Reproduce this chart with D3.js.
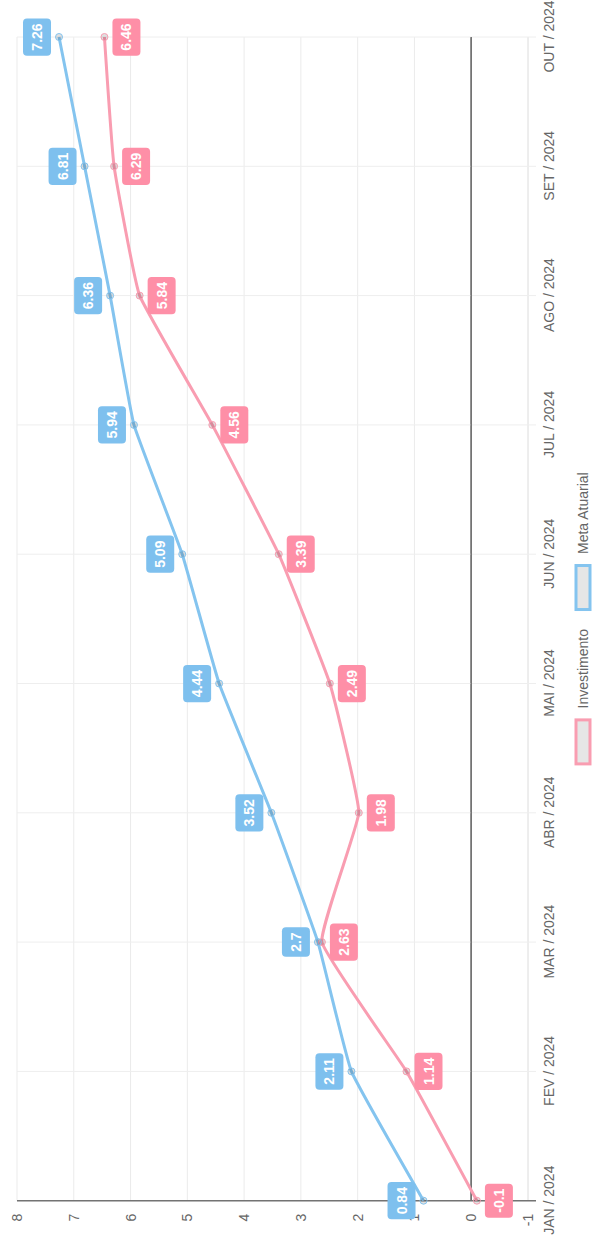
<!DOCTYPE html>
<html>
<head>
<meta charset="utf-8">
<script src="https://cdn.jsdelivr.net/npm/d3@7"></script>
<style>
  html, body { margin: 0; padding: 0; background: #fff; }
  svg { display: block; font-family: "Liberation Sans", Arial, sans-serif; }
</style>
</head>
<body>
<div id="chart"></div>
<script>
const categories = ["JAN / 2024", "FEV / 2024", "MAR / 2024", "ABR / 2024", "MAI / 2024",
                    "JUN / 2024", "JUL / 2024", "AGO / 2024", "SET / 2024", "OUT / 2024"]
const metaAtuarial = [0.84, 2.11, 2.7, 3.52, 4.44, 5.09, 5.94, 6.36, 6.81, 7.26]
const investimento = [-0.1, 1.14, 2.63, 1.98, 2.49, 3.39, 4.56, 5.84, 6.29, 6.46]
const valueTicks = [-1, 0, 1, 2, 3, 4, 5, 6, 7, 8]

const series = [
    {name: "Investimento", values: investimento, line: "#f99db1", label: "#fe8fa7", side: 1},
    {name: "Meta Atuarial", values: metaAtuarial, line: "#84c4ef", label: "#7ec0ee", side: -1}
]

// chart is laid out as a normal 1249x592 line chart, then turned a quarter left
const W = 1249, H = 592
const margin = {top: 17, left: 48.3, right: 37, bottom: 64}
const iwidth = W - margin.left - margin.right
const iheight = H - margin.top - margin.bottom

const svg = d3.select("#chart").append("svg")
    .attr("width", 592)
    .attr("height", 1249)

const root = svg.append("g").attr("transform", `translate(0,${W}) rotate(-90)`)

const x = d3.scalePoint()
    .domain(categories)
    .range([margin.left, margin.left + iwidth])

const y = d3.scaleLinear()
    .domain([-1, 8])
    .range([margin.top + iheight, margin.top])

// value grid
root.append("g").selectAll("line").data(valueTicks).enter().append("line")
    .attr("x1", margin.left).attr("x2", margin.left + iwidth)
    .attr("y1", d => y(d)).attr("y2", d => y(d))
    .attr("stroke", d => d === 0 ? "#737373" : (d === -1 ? "#dcdcdc" : "#ebebeb"))
    .attr("stroke-width", d => d === 0 ? 1.5 : 1)

// category grid (with ticks past the bottom)
root.append("g").selectAll("line").data(categories).enter().append("line")
    .attr("x1", d => x(d)).attr("x2", d => x(d))
    .attr("y1", margin.top).attr("y2", margin.top + iheight + 8)
    .attr("stroke", "#eeeeee")

// zero line drawn again so it sits over the category grid
root.append("line")
    .attr("x1", margin.left).attr("x2", margin.left + iwidth)
    .attr("y1", y(0)).attr("y2", y(0))
    .attr("stroke", "#737373").attr("stroke-width", 1.5)

// left value axis
const yAxis = root.append("g")
    .attr("transform", `translate(${margin.left},0)`)
    .call(d3.axisLeft(y).tickValues(valueTicks).tickSize(0).tickPadding(13).tickFormat(d3.format("d")))
yAxis.select(".domain").remove()
yAxis.selectAll("text").attr("fill", "#666").style("font-size", "14px")
yAxis.selectAll("text").text(d => d < 0 ? "-" + Math.abs(d) : d)
root.append("line")
    .attr("x1", margin.left).attr("x2", margin.left)
    .attr("y1", margin.top).attr("y2", margin.top + iheight + 8)
    .attr("stroke", "#737373").attr("stroke-width", 1.5)

// bottom category axis labels
const xAxis = root.append("g")
    .attr("transform", `translate(0,${margin.top + iheight})`)
    .call(d3.axisBottom(x).tickSize(0).tickPadding(16))
xAxis.select(".domain").remove()
xAxis.selectAll("text").attr("fill", "#666").style("font-size", "14px")

// lines
const line = d3.line()
    .x((d, i) => x(categories[i]))
    .y(d => y(d))
    .curve(d3.curveCardinal.tension(0.7))

series.forEach(s => {
    root.append("path")
        .datum(s.values)
        .attr("fill", "none")
        .attr("stroke", s.line)
        .attr("stroke-width", 3)
        .attr("d", line)
})

series.forEach(s => {
    root.append("g").selectAll("circle").data(s.values).enter().append("circle")
        .attr("cx", (d, i) => x(categories[i]))
        .attr("cy", d => y(d))
        .attr("r", 3.5)
        .attr("fill", "rgba(0,0,0,0.12)")
        .attr("stroke", s.line)
        .attr("stroke-width", 1)
})

// data labels
series.forEach(s => {
    const lg = root.append("g")
    s.values.forEach((v, i) => {
        const cx = x(categories[i])
        const cy = y(v) + s.side * 22
        const grp = lg.append("g")
        const rect = grp.append("rect")
        const t = grp.append("text")
            .attr("x", cx).attr("y", cy)
            .attr("dy", "0.36em")
            .attr("text-anchor", "middle")
            .attr("fill", "#fff")
            .style("font-size", "14px")
            .style("font-weight", "bold")
            .text(v)
        const tw = t.node().getComputedTextLength()
        rect.attr("x", cx - tw / 2 - 5).attr("y", cy - 14)
            .attr("width", tw + 10).attr("height", 28)
            .attr("rx", 4)
            .attr("fill", s.label)
    })
})

// legend
const legend = root.append("g").attr("transform", `translate(0,583)`)
const boxW = 47, boxH = 14, gap = 10, itemGap = 18
const items = series.map(s => {
    const g = legend.append("g")
    const t = g.append("text").attr("fill", "#666").style("font-size", "14px")
        .attr("dy", "0.36em").text(s.name)
    return {s, g, t, w: boxW + gap + t.node().getComputedTextLength()}
})
const total = d3.sum(items, d => d.w) + itemGap * (items.length - 1)
let lx = margin.left + iwidth / 2 - total / 2
items.forEach(it => {
    it.g.append("rect")
        .attr("x", lx + 1.5).attr("y", -boxH / 2)
        .attr("width", boxW - 3).attr("height", boxH)
        .attr("fill", "#e6e6e6")
        .attr("stroke", it.s.line).attr("stroke-width", 3)
    it.t.attr("x", lx + boxW + gap)
    lx += it.w + itemGap
})
</script>
</body>
</html>
